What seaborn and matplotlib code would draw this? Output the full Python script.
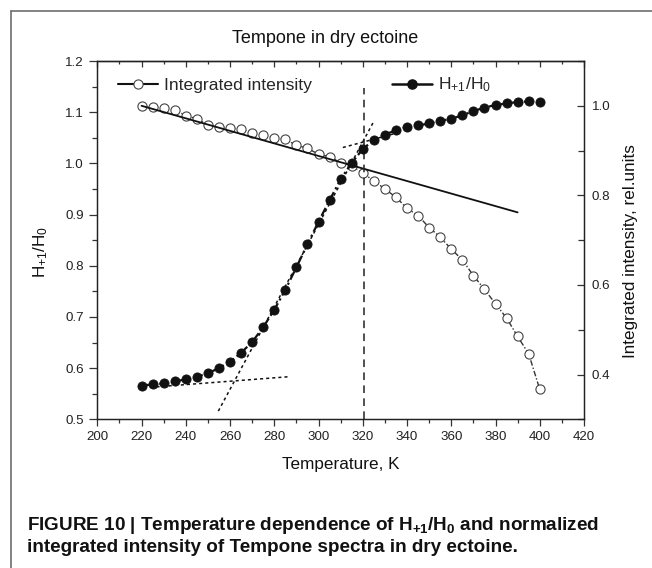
import matplotlib
matplotlib.use("Agg")
import matplotlib.pyplot as plt
from matplotlib.lines import Line2D
from matplotlib.ticker import MultipleLocator
import pandas as pd
import seaborn as sns

# --- data -------------------------------------------------------------
temperature = list(range(220, 401, 5))

h_ratio = [0.566, 0.568, 0.570, 0.574, 0.578, 0.583, 0.590, 0.600, 0.612,
           0.630, 0.651, 0.680, 0.714, 0.753, 0.797, 0.842, 0.886, 0.928,
           0.969, 1.001, 1.028, 1.046, 1.056, 1.065, 1.071, 1.074, 1.078,
           1.083, 1.087, 1.094, 1.102, 1.109, 1.114, 1.117, 1.120, 1.121,
           1.119]

intensity = [1.000, 0.998, 0.996, 0.991, 0.978, 0.971, 0.957, 0.953, 0.951,
             0.948, 0.940, 0.935, 0.929, 0.925, 0.912, 0.905, 0.892, 0.886,
             0.873, 0.866, 0.849, 0.833, 0.814, 0.796, 0.771, 0.755, 0.728,
             0.707, 0.680, 0.656, 0.621, 0.590, 0.558, 0.526, 0.485, 0.446,
             0.367]

# linear trend of the integrated intensity (right axis)
fit_temp = [220, 390]
fit_intensity = [1.000, 0.762]

# tangent construction on H+1/H0 (left axis)
base_temp, base_h = [224, 286], [0.5625, 0.583]
steep_temp, steep_h = [254.7, 325.1], [0.516, 1.083]
plateau_temp, plateau_h = [311, 336], [1.031, 1.060]

# transition temperature marker
t_c = [320.5, 320.5]
t_c_h = [0.5, 1.147]

x_ticks = list(range(200, 421, 20))
left_ticks = [0.5, 0.6, 0.7, 0.8, 0.9, 1.0, 1.1, 1.2]
right_ticks = [0.4, 0.6, 0.8, 1.0]

df = pd.DataFrame({"T": temperature, "H": h_ratio, "I": intensity})

# --- style ------------------------------------------------------------
sns.set_theme(style="white")
plt.rcParams["font.family"] = ["Liberation Sans", "DejaVu Sans"]
plt.rcParams["axes.linewidth"] = 0.9
plt.rcParams["axes.edgecolor"] = "#222222"

W, H = 652, 568
fig = plt.figure(figsize=(W / 100, H / 100), dpi=100)
fig.patch.set_facecolor("white")

ax_l, ax_b, ax_r, ax_t = 97.3, 419.3, 584.0, 61.0
ax = fig.add_axes([ax_l / W, 1 - ax_b / H, (ax_r - ax_l) / W, (ax_b - ax_t) / H])
ax2 = ax.twinx()
ax.set_zorder(ax2.get_zorder() + 1)
ax.patch.set_visible(False)

ink = "#111111"
tick_col = "#333333"

# right axis: integrated intensity
sns.lineplot(data=df, x="T", y="I", ax=ax2, color="#333333", linewidth=1.0,
             linestyle=(0, (4, 1.5, 1, 1.5)), marker="o", markersize=6.6,
             markerfacecolor="white", markeredgecolor="#444444",
             markeredgewidth=0.8, legend=False, zorder=2)
sns.lineplot(x=fit_temp, y=fit_intensity, ax=ax2, color=ink, linewidth=1.3,
             legend=False, zorder=3)

# left axis: H+1/H0
sns.lineplot(data=df, x="T", y="H", ax=ax, color=ink, linewidth=1.6,
             linestyle=(0, (4, 1.5, 1, 1.5)), marker="o", markersize=6.6,
             markerfacecolor=ink, markeredgecolor=ink, markeredgewidth=0.6,
             legend=False, zorder=4)
for tx, ty in [(base_temp, base_h), (steep_temp, steep_h), (plateau_temp, plateau_h)]:
    sns.lineplot(x=tx, y=ty, ax=ax, color=ink, linewidth=1.1,
                 linestyle=(0, (2, 2)), legend=False, zorder=3)
sns.lineplot(x=t_c, y=t_c_h, ax=ax, color="#222222", linewidth=1.1,
             linestyle=(0, (5, 3.5)), legend=False, zorder=3, orient="y")

# --- axes limits & ticks -----------------------------------------------
ax.set_xlim(200, 420)
ax.set_ylim(0.5, 1.2)
ax2.set_ylim(0.3, 1.1)

ax.set_xticks(x_ticks)
ax.xaxis.set_minor_locator(MultipleLocator(10))
ax.set_yticks(left_ticks)
ax.yaxis.set_minor_locator(MultipleLocator(0.05))
ax.set_yticklabels([f"{v:.1f}" for v in left_ticks])
ax2.set_yticks(right_ticks)
ax2.yaxis.set_minor_locator(MultipleLocator(0.1))
ax2.set_yticklabels([f"{v:.1f}" for v in right_ticks])

ax.tick_params(axis="x", which="major", direction="out", length=5.2, width=0.9,
               labelsize=9.6, pad=3.2, colors=tick_col, labelcolor="#222222",
               bottom=True, top=False)
ax.tick_params(axis="x", which="minor", direction="out", length=2.6, width=0.9,
               colors=tick_col, bottom=True, top=False)
ax.tick_params(axis="y", which="major", direction="out", length=5.6, width=0.9,
               labelsize=9.6, pad=4.0, colors=tick_col, labelcolor="#222222",
               left=True, right=False)
ax.tick_params(axis="y", which="minor", direction="out", length=3.4, width=0.9,
               colors=tick_col, left=True, right=False)
ax2.tick_params(axis="y", which="major", direction="in", length=5.2, width=0.9,
                labelsize=9.6, pad=5.5, colors=tick_col, labelcolor="#222222",
                right=True, left=False)
ax2.tick_params(axis="y", which="minor", direction="in", length=4.0, width=0.9,
                colors=tick_col, right=True, left=False)

top = ax.secondary_xaxis("top")
top.set_xticks(x_ticks)
top.xaxis.set_minor_locator(MultipleLocator(10))
top.tick_params(axis="x", which="major", direction="in", length=4.2, width=0.9,
                labeltop=False, colors=tick_col)
top.tick_params(axis="x", which="minor", direction="in", length=2.2, width=0.9,
                colors=tick_col)
top.spines["top"].set_linewidth(0.9)

for a in (ax, ax2):
    for s in a.spines.values():
        s.set_color("#222222")
        s.set_linewidth(0.9)

# --- labels ------------------------------------------------------------
ax.set_xlabel("Temperature, K", fontsize=12.3, color=ink)
ax.xaxis.set_label_coords(0.5, (ax_b - 465) / (ax_b - ax_t))
ax.xaxis.label.set_va("center")

ax.set_ylabel(r"$\mathregular{H_{+1}/H_0}$", fontsize=12.3, color=ink, va="center")
ax.yaxis.set_label_coords((41 - ax_l) / (ax_r - ax_l), (ax_b - 252) / (ax_b - ax_t))

ax2.set_ylabel("Integrated intensity, rel.units", fontsize=12.3, color=ink,
               va="center", rotation=90)
ax2.yaxis.set_label_coords((630 - ax_l) / (ax_r - ax_l), (ax_b - 251) / (ax_b - ax_t))

fig.text(325 / W, 1 - 38.3 / H, "Tempone in dry ectoine", fontsize=13,
         ha="center", va="center", color=ink)

# --- legends -----------------------------------------------------------
h_int = Line2D([], [], color=ink, linewidth=1.5, marker="o", markersize=6.6,
               markerfacecolor="white", markeredgecolor="#444444",
               markeredgewidth=0.8)
h_hr = Line2D([], [], color=ink, linewidth=1.8, marker="o", markersize=6.6,
              markerfacecolor=ink, markeredgecolor=ink)
leg_kw = dict(frameon=False, fontsize=12.6, loc="center left", borderpad=0,
              borderaxespad=0, handlelength=2.3, handletextpad=0.3,
              bbox_transform=fig.transFigure)
leg1 = ax.legend([h_int], ["Integrated intensity"],
                 bbox_to_anchor=(118 / W, 1 - 85 / H), **leg_kw)
ax.add_artist(leg1)
ax.legend([h_hr], [r"$\mathregular{H_{+1}/H_0}$"],
          bbox_to_anchor=(392 / W, 1 - 85 / H), **leg_kw)

# --- page frame and caption -------------------------------------------
frame_col = "#6e6e6e"
fig.add_artist(Line2D([11 / W, 11 / W], [0, 1 - 10.7 / H], transform=fig.transFigure,
                      color=frame_col, linewidth=1.2))
fig.add_artist(Line2D([11 / W, 1], [1 - 10.7 / H, 1 - 10.7 / H], transform=fig.transFigure,
                      color=frame_col, linewidth=1.2))

cap_font = ["Liberation Sans Narrow", "Liberation Sans", "DejaVu Sans"]
fig.text(27 / W, 1 - 525 / H,
         r"FIGURE 10 | Temperature dependence of $\mathregular{H_{+1}/H_0}$ and normalized",
         fontsize=13.6, fontweight="bold", family=cap_font, ha="left", va="center",
         color="#111111")
fig.text(27 / W, 1 - 547 / H,
         "integrated intensity of Tempone spectra in dry ectoine.",
         fontsize=13.6, fontweight="bold", family=cap_font, ha="left", va="center",
         color="#111111")

fig.savefig("out.png", dpi=100, facecolor="white")
